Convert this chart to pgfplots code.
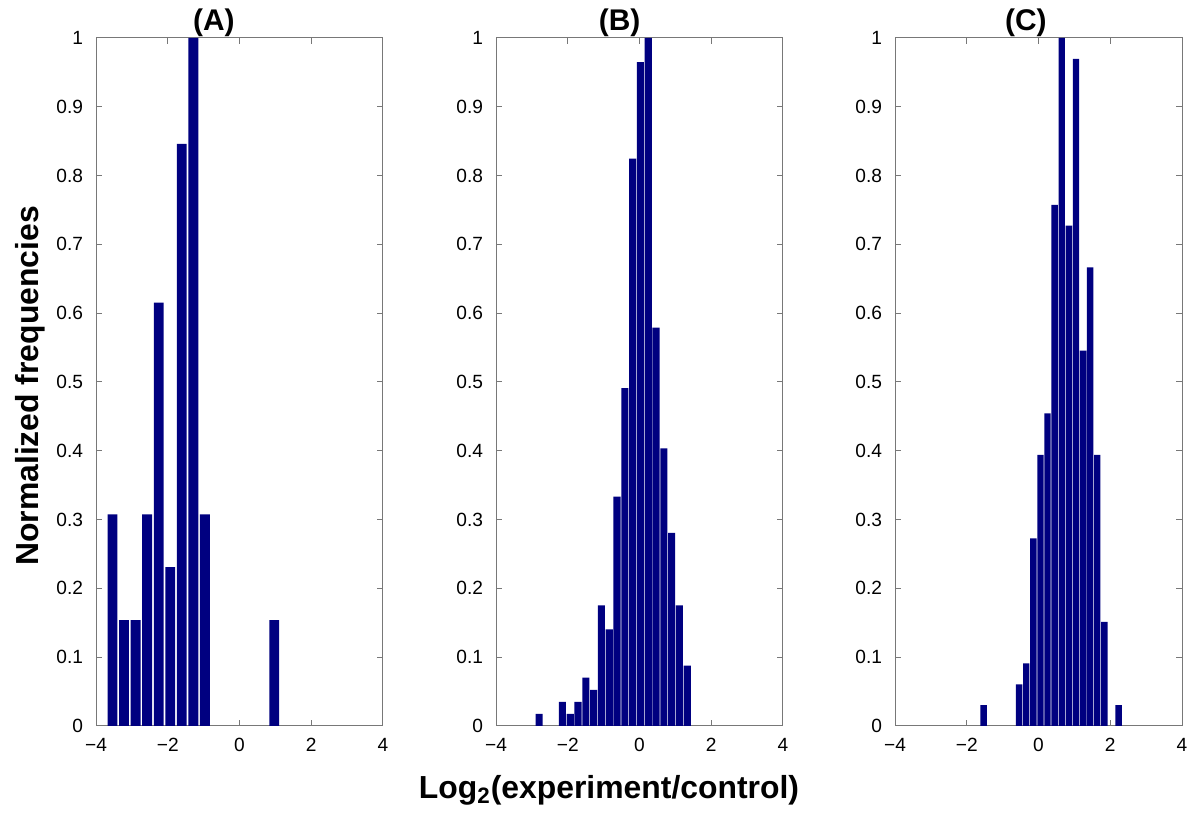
\documentclass[border=0pt]{standalone}
\usepackage{fontspec}
\setmainfont{Liberation Sans}
\usepackage{pgfplots}
\pgfplotsset{compat=1.18}
\definecolor{histblue}{RGB}{0,0,128}
\definecolor{framegray}{RGB}{120,120,120}

\pgfplotsset{
  panel/.style={
    scale only axis, width=143.5bp, height=344bp, anchor=south west,
    xmin=-4, xmax=4, ymin=0, ymax=1,
    xtick={-4,-2,0,2,4}, xticklabels={−4,−2,0,2,4},
    ytick={0,0.1,0.2,0.3,0.4,0.5,0.6,0.7,0.8,0.9,1},
    tick align=inside, major tick length=3bp,
    axis line style={framegray, line width=0.5bp},
    tick style={framegray, line width=0.5bp},
    ticklabel style={font=\fontsize{9.6}{10}\selectfont},
    /pgf/number format/assume math mode=true,
    xticklabel style={yshift=-2.5bp},
    yticklabel style={xshift=-3bp},
    % yshift adds up, so cancel the default 6pt
    title style={font=\fontsize{15}{17}\bfseries\selectfont, anchor=center, yshift=-6pt},
  },
  hbar/.style={ybar, fill=histblue, draw=none},
}

\begin{document}
\begin{tikzpicture}
\path[use as bounding box] (0,0) rectangle (600bp,409bp);

% (A) 15 bins, counts normalised by 13
\begin{axis}[panel, at={(48bp,46bp)}, title={(A)}, title style={at={(0.411,1.022)}}]
\addplot[hbar, bar width=0.275] coordinates {
  (-3.540,0.3077) (-3.218,0.1538) (-2.896,0.1538) (-2.574,0.3077)
  (-2.252,0.6154) (-1.930,0.2308) (-1.608,0.8462) (-1.286,1.0000)
  (-0.964,0.3077) (0.968,0.1538)
};
\end{axis}

% (B) 20 bins, counts normalised by 57
\begin{axis}[panel, at={(248bp,46bp)}, title={(B)}, title style={at={(0.431,1.022)}}]
\addplot[hbar, bar width=0.198] coordinates {
  (-2.800,0.0175) (-2.148,0.0351) (-1.930,0.0175) (-1.713,0.0351)
  (-1.496,0.0702) (-1.278,0.0526) (-1.061,0.1754) (-0.843,0.1404)
  (-0.626,0.3333) (-0.409,0.4912) (-0.191,0.8246) (0.026,0.9649)
  (0.244,1.0000) (0.461,0.5789) (0.678,0.4035) (0.896,0.2807)
  (1.113,0.1754) (1.331,0.0877)
};
\end{axis}

% (C) 20 bins, counts normalised by 33
\begin{axis}[panel, at={(447.5bp,46bp)}, title={(C)}, title style={at={(0.456,1.022)}}]
\addplot[hbar, bar width=0.178] coordinates {
  (-1.530,0.0303) (-0.540,0.0606) (-0.342,0.0909) (-0.144,0.2727)
  (0.054,0.3939) (0.252,0.4545) (0.450,0.7576) (0.648,1.0000)
  (0.846,0.7273) (1.044,0.9697) (1.242,0.5455) (1.440,0.6667)
  (1.638,0.3939) (1.836,0.1515) (2.232,0.0303)
};
\end{axis}

\node[rotate=90, font=\fontsize{16}{18}\bfseries\selectfont] at (15bp,216bp) {Normalized frequencies};
\node[anchor=base, font=\fontsize{16}{18}\bfseries\selectfont] at (304.5bp,10bp) {Log\textsubscript{2}(experiment/control)};
\end{tikzpicture}
\end{document}
